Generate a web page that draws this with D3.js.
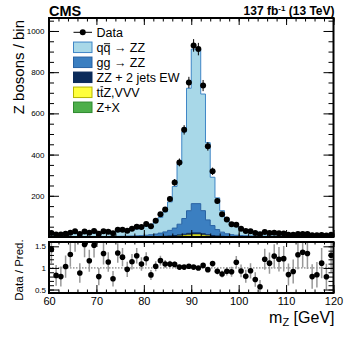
<!DOCTYPE html>
<html>
<head>
<meta charset="utf-8">
<script src="https://cdn.jsdelivr.net/npm/d3@7"></script>
<style>
  body { margin: 0; background: #fff; }
  svg { display: block; font-family: "Liberation Sans", Arial, Helvetica, sans-serif; }
</style>
</head>
<body>
<svg id="chart" width="349" height="338"></svg>
<script>
// m_Z bins, 1 GeV wide from 60 to 120
const binEdges = d3.range(60, 121, 1)

// observed events per bin
const dataCounts = [20, 12, 12, 16, 21, 28, 15, 27, 21, 29,
  16, 28, 25, 18, 35, 35, 30, 40, 50, 49,
  63, 52, 79, 111, 133, 185, 265, 362, 520, 750,
  930, 912, 735, 440, 319, 175, 110, 85, 62, 60,
  40, 29, 28, 19, 13, 24, 20, 21, 18, 17,
  11, 11, 15, 15, 14, 8, 8, 10, 7, 11]

// predictions, one array per process
const qqZZ = [11.8, 12.3, 12.8, 13.3, 13.8, 14.3, 14.8, 15.3, 15.8, 16.8,
  17.6, 18.5, 19.3, 21.1, 22.8, 24.4, 26.9, 30.3, 33.5, 38.4,
  43.5, 51.1, 61.7, 76.1, 97.2, 137.8, 201.7, 292.9, 420.3, 594.4,
  750, 750, 566, 375.1, 234.6, 154, 104.4, 76.2, 56.8, 44.6,
  36.3, 30.3, 25, 21.5, 18.9, 16.2, 14.4, 13.1, 11.8, 10.9,
  10.4, 9.5, 9.1, 8.6, 8.2, 7.7, 7.3, 6.8, 6.6, 6.4]
const ggZZ = [1, 1, 1, 1, 1, 1, 1, 1, 1, 1,
  1.2, 1.3, 1.5, 1.7, 2, 2.4, 2.9, 3.5, 4.3, 5.4,
  7, 9, 12, 16, 21, 27, 36, 52, 76, 110,
  142, 142, 112, 72, 48, 31, 20, 13, 9, 6.5,
  5, 4, 3.3, 2.8, 2.4, 2.1, 1.9, 1.7, 1.5, 1.4,
  1.3, 1.2, 1.1, 1.1, 1, 1, 0.9, 0.9, 0.9, 0.8]
const zzEW = [0.5, 0.5, 0.5, 0.5, 0.5, 0.5, 0.5, 0.5, 0.5, 0.5,
  0.5, 0.5, 0.5, 0.5, 0.5, 0.5, 0.5, 0.5, 0.5, 0.5,
  0.6, 0.8, 1, 1.3, 1.7, 2.4, 3.4, 4.8, 6.5, 8.5,
  9.5, 9.5, 7.5, 5, 3.4, 2.3, 1.6, 1.2, 0.9, 0.8,
  0.7, 0.7, 0.7, 0.7, 0.7, 0.7, 0.7, 0.7, 0.7, 0.7,
  0.5, 0.5, 0.5, 0.5, 0.5, 0.5, 0.5, 0.5, 0.5, 0.5]
const ttZVVV = [0.3, 0.3, 0.3, 0.3, 0.3, 0.3, 0.3, 0.3, 0.3, 0.3,
  0.3, 0.3, 0.3, 0.3, 0.3, 0.3, 0.3, 0.3, 0.3, 0.3,
  0.4, 0.5, 0.6, 0.8, 1.1, 1.6, 2.4, 3.5, 5, 6.5,
  7.5, 7.5, 6, 4, 2.6, 1.7, 1.2, 0.9, 0.7, 0.6,
  0.5, 0.5, 0.5, 0.5, 0.5, 0.5, 0.5, 0.5, 0.5, 0.5,
  0.4, 0.4, 0.4, 0.4, 0.4, 0.4, 0.4, 0.4, 0.4, 0.4]
const zPlusX = [0.4, 0.4, 0.4, 0.4, 0.4, 0.4, 0.4, 0.4, 0.4, 0.4,
  0.4, 0.4, 0.4, 0.4, 0.4, 0.4, 0.4, 0.4, 0.4, 0.4,
  0.5, 0.6, 0.7, 0.8, 1, 1.2, 1.5, 1.8, 2.2, 2.6,
  3, 3, 2.5, 1.9, 1.4, 1, 0.8, 0.7, 0.6, 0.5,
  0.5, 0.5, 0.5, 0.5, 0.5, 0.5, 0.5, 0.5, 0.5, 0.5,
  0.4, 0.4, 0.4, 0.4, 0.4, 0.4, 0.4, 0.4, 0.4, 0.4]

const xTicks = [60, 70, 80, 90, 100, 110, 120]
const yTicks = [200, 400, 600, 800, 1000]
const ratioTicks = [0.5, 1, 1.5]

// bottom-up stacking order, legend is listed top-down
// bar: index of the letter that gets an overline (antiparticle)
const processes = [
  { key: 'zx', label: 'Z+X', fill: '#4daf4a', stroke: '#2f8a2f' },
  { key: 'ttz', label: 'ttZ,VVV', bar: 1, fill: '#ffff3c', stroke: '#b5b500' },
  { key: 'ew', label: 'ZZ + 2 jets EW', fill: '#0b2b5a', stroke: '#0b2b5a' },
  { key: 'gg', label: 'gg → ZZ', fill: '#3b7fc1', stroke: '#2862a3' },
  { key: 'qq', label: 'qq → ZZ', bar: 1, fill: '#a8d8e8', stroke: '#3f86c6' }
]

const svg = d3.select('#chart')
const L = 49, R = 333.5, T = 18, B = 237, RT = 242, RB = 293

const x = d3.scaleLinear().domain([60, 120]).range([L, R])
const y = d3.scaleLinear().domain([0, 1063]).range([B, T])
const yr = d3.scaleLinear().domain([0.42, 1.6]).range([RB, RT])

const rows = binEdges.slice(0, -1).map((lo, i) => ({
  lo,
  hi: binEdges[i + 1],
  zx: zPlusX[i],
  ttz: ttZVVV[i],
  ew: zzEW[i],
  gg: ggZZ[i],
  qq: qqZZ[i],
  data: dataCounts[i]
}))
rows.forEach(r => { r.pred = r.zx + r.ttz + r.ew + r.gg + r.qq })

const defs = svg.append('defs')
defs.append('clipPath').attr('id', 'clipMain')
  .append('rect').attr('x', L).attr('y', T).attr('width', R - L).attr('height', B - T)
defs.append('clipPath').attr('id', 'clipRatio')
  .append('rect').attr('x', L).attr('y', RT).attr('width', R - L).attr('height', RB - RT)

// stacked histograms
const stacked = d3.stack().keys(processes.map(p => p.key))(rows)
const area = d3.area().x(p => x(p.x)).y0(p => y(p.y0)).y1(p => y(p.y1))
const topLine = d3.line().x(p => x(p.x)).y(p => y(p.y1))
const histG = svg.append('g').attr('clip-path', 'url(#clipMain)')

stacked.slice().reverse().forEach(layer => {
  const proc = processes.find(p => p.key === layer.key)
  const pts = layer.flatMap(d => [
    { x: d.data.lo, y0: d[0], y1: d[1] },
    { x: d.data.hi, y0: d[0], y1: d[1] }
  ])
  histG.append('path').attr('d', area(pts)).attr('fill', proc.fill)
})
stacked.forEach(layer => {
  const proc = processes.find(p => p.key === layer.key)
  const pts = layer.flatMap(d => [
    { x: d.data.lo, y1: d[1] },
    { x: d.data.hi, y1: d[1] }
  ])
  histG.append('path').attr('d', topLine(pts))
    .attr('fill', 'none').attr('stroke', proc.stroke).attr('stroke-width', 1)
})

// data points with poisson error bars
const dataG = svg.append('g').attr('clip-path', 'url(#clipMain)')
rows.forEach(r => {
  const cx = x((r.lo + r.hi) / 2)
  const e = Math.sqrt(r.data)
  dataG.append('line')
    .attr('x1', cx).attr('x2', cx)
    .attr('y1', y(r.data - e)).attr('y2', y(r.data + e))
    .attr('stroke', '#000').attr('stroke-width', 1)
  dataG.append('circle').attr('cx', cx).attr('cy', y(r.data)).attr('r', 3).attr('fill', '#000')
})

// ratio panel
svg.append('line')
  .attr('x1', L).attr('x2', R).attr('y1', yr(1)).attr('y2', yr(1))
  .attr('stroke', '#666').attr('stroke-width', 1).attr('stroke-dasharray', '1.5,1.5')
const ratioG = svg.append('g').attr('clip-path', 'url(#clipRatio)')
rows.forEach(r => {
  const cx = x((r.lo + r.hi) / 2)
  const ratio = r.data / r.pred
  const e = Math.sqrt(r.data) / r.pred
  ratioG.append('line')
    .attr('x1', cx).attr('x2', cx)
    .attr('y1', yr(ratio - e)).attr('y2', yr(ratio + e))
    .attr('stroke', '#999').attr('stroke-width', 1.5)
  ratioG.append('circle').attr('cx', cx).attr('cy', yr(ratio)).attr('r', 2.8).attr('fill', '#000')
})

// axes: inward ticks on all four sides
function ticks (axis, tr, size, values, fmt, font, pad) {
  const g = svg.append('g').attr('transform', tr)
    .call(axis.tickValues(values).tickSize(-size).tickPadding(pad || 3).tickFormat(fmt || ''))
  g.select('.domain').remove()
  g.selectAll('line').attr('stroke', '#000').attr('stroke-width', 1)
  g.selectAll('text').attr('font-size', font || 8).attr('fill', '#000')
    .attr('font-family', '"Liberation Sans", Arial, sans-serif')
  return g
}
const xMinor = d3.range(60, 121, 2)
const yMinor = d3.range(0, 1063, 50)
const rMinor = d3.range(0.5, 1.6, 0.1)

ticks(d3.axisLeft(y), `translate(${L},0)`, 5, yMinor)
ticks(d3.axisLeft(y), `translate(${L},0)`, 10, yTicks, d3.format('d'), 8, 4.5)
ticks(d3.axisRight(y), `translate(${R},0)`, 5, yMinor)
ticks(d3.axisRight(y), `translate(${R},0)`, 10, yTicks)
ticks(d3.axisTop(x), `translate(0,${T})`, 3.5, xMinor)
ticks(d3.axisTop(x), `translate(0,${T})`, 7, xTicks)
ticks(d3.axisBottom(x), `translate(0,${B})`, 3.5, xMinor)
ticks(d3.axisBottom(x), `translate(0,${B})`, 7, xTicks)

ticks(d3.axisLeft(yr), `translate(${L},0)`, 5, rMinor)
ticks(d3.axisLeft(yr), `translate(${L},0)`, 10, ratioTicks, d3.format('~g'), 8, 3)
ticks(d3.axisRight(yr), `translate(${R},0)`, 5, rMinor)
ticks(d3.axisRight(yr), `translate(${R},0)`, 10, ratioTicks)
ticks(d3.axisTop(x), `translate(0,${RT})`, 2.5, xMinor)
ticks(d3.axisTop(x), `translate(0,${RT})`, 5, xTicks)
ticks(d3.axisBottom(x), `translate(0,${RB})`, 3.5, xMinor)
ticks(d3.axisBottom(x), `translate(0,${RB})`, 8, xTicks, d3.format('d'), 11, 4)

// frames
svg.append('rect').attr('x', L).attr('y', T).attr('width', R - L).attr('height', B - T)
  .attr('fill', 'none').attr('stroke', '#000').attr('stroke-width', 2)
svg.append('rect').attr('x', L).attr('y', RT).attr('width', R - L).attr('height', RB - RT)
  .attr('fill', 'none').attr('stroke', '#000').attr('stroke-width', 2)

// titles
svg.append('text').attr('x', L).attr('y', 15.5)
  .attr('font-size', 14.5).attr('font-weight', 'bold').text('CMS')

const lumi = svg.append('text').attr('x', R + 1).attr('y', 15)
  .attr('text-anchor', 'end').attr('font-size', 12).attr('font-weight', 'bold')
lumi.append('tspan').text('137 fb')
lumi.append('tspan').attr('dy', -4.5).attr('font-size', 8).text('-1')
lumi.append('tspan').attr('dy', 4.5).text(' (13 TeV)')

svg.append('text').attr('transform', 'translate(24,20) rotate(-90)')
  .attr('text-anchor', 'end').attr('font-size', 15).text('Z bosons / bin')

svg.append('text').attr('transform', 'translate(22.5,270) rotate(-90)')
  .attr('text-anchor', 'middle').attr('font-size', 11.5).text('Data / Pred.')

const xt = svg.append('text').attr('x', R + 1).attr('y', 323)
  .attr('text-anchor', 'end').attr('font-size', 16)
xt.append('tspan').text('m')
xt.append('tspan').attr('dy', 3).attr('font-size', 11).text('Z')
xt.append('tspan').attr('dy', -3).text(' [GeV]')

// legend
const legend = svg.append('g').attr('font-size', 12.5)
const lx = 73.5, ly = 32.3, step = 15
legend.append('line').attr('x1', lx).attr('x2', lx + 18.5).attr('y1', ly).attr('y2', ly)
  .attr('stroke', '#000').attr('stroke-width', 1)
legend.append('circle').attr('cx', lx + 9.25).attr('cy', ly).attr('r', 3).attr('fill', '#000')
legend.append('text').attr('x', lx + 23).attr('y', ly).attr('dy', '0.35em').text('Data')

processes.slice().reverse().forEach((p, i) => {
  const yy = ly + step * (i + 1)
  legend.append('rect').attr('x', lx).attr('y', yy - 5.25).attr('width', 18.5).attr('height', 10.5)
    .attr('fill', p.fill).attr('stroke', p.stroke).attr('stroke-width', 1)
  const t = legend.append('text').attr('x', lx + 23).attr('y', yy).attr('dy', '0.35em').text(p.label)
  if (p.bar !== undefined) {
    // overline on the antiparticle letter
    const node = t.node()
    const start = node.getStartPositionOfChar(p.bar).x
    const w = node.getSubStringLength(p.bar, 1)
    const top = p.key === 'qq' ? yy - 3.6 : yy - 5.6
    legend.append('line').attr('x1', start + 0.5).attr('x2', start + w - 0.3)
      .attr('y1', top).attr('y2', top).attr('stroke', '#000').attr('stroke-width', 0.9)
  }
})
</script>
</body>
</html>
